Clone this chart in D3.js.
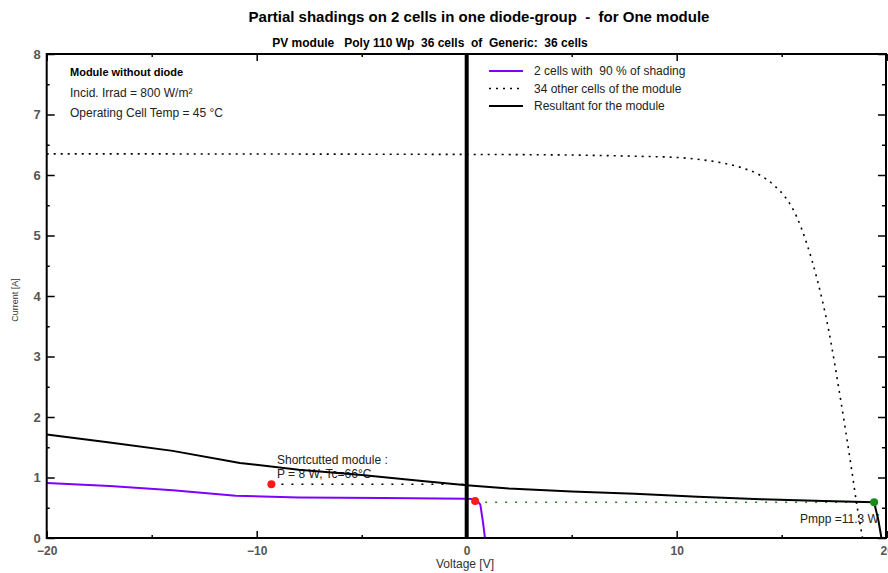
<!DOCTYPE html>
<html>
<head>
<meta charset="utf-8">
<script src="https://cdn.jsdelivr.net/npm/d3@7"></script>
<style>
    body { margin: 0; background: #fff; }
    svg text { font-family: "Liberation Sans", Arial, sans-serif; white-space: pre; }
</style>
</head>
<body>
<svg id="vis_svg"></svg>
<script>
// Data
const voltTicks = [-20, -10, 0, 10, 20];
const currTicks = [0, 1, 2, 3, 4, 5, 6, 7, 8];

// 2 shaded cells (purple)
const shadedV = [-20, -17, -14, -11, -8, -4, 0, 0.45, 0.65, 0.78, 0.87];
const shadedI = [0.91, 0.86, 0.79, 0.70, 0.67, 0.66, 0.65, 0.64, 0.55, 0.25, 0];

// 34 other cells (dotted)
const otherV = [-20, 0, 5, 8, 10, 11, 12, 13, 14, 14.6, 15.2, 15.7, 16.2, 16.7, 17.2, 17.8, 18.3, 18.6, 18.85];
const otherI = [6.35, 6.34, 6.33, 6.31, 6.29, 6.26, 6.21, 6.13, 5.99, 5.84, 5.62, 5.32, 4.86, 4.26, 3.5, 2.3, 1.2, 0.5, 0];

// resultant for the module (black)
const resultV = [-20, -17, -14, -10.8, -8, -5, -2, 0, 2, 5, 8, 11, 14, 17, 19.4, 19.6, 19.75];
const resultI = [1.71, 1.58, 1.44, 1.24, 1.13, 1.04, 0.94, 0.87, 0.82, 0.77, 0.73, 0.68, 0.64, 0.61, 0.59, 0.3, 0];

// operating points
const shortV = [-9.3, 0.4];
const shortI = [0.89, 0.61];
const mppV = 19.4;
const mppI = 0.59;

const legendLabels = ['2 cells with  90 % of shading', '34 other cells of the module', 'Resultant for the module'];
const infoLabels = ['Incid. Irrad = 800 W/m²', 'Operating Cell Temp = 45 °C'];

let config = { svg: {}, plot: {} };
let scales = {};

function visSetup() {
    config.svg.width = 888;
    config.svg.height = 573;

    config.plot.left = 46.7;
    config.plot.right = 886;
    config.plot.top = 54;
    config.plot.bottom = 538;

    svg = d3.select('#vis_svg')
        .attr('width', config.svg.width)
        .attr('height', config.svg.height);

    scales.x = d3.scaleLinear().domain([-20, 20]).range([config.plot.left, 886.7]);
    scales.y = d3.scaleLinear().domain([0, 8]).range([config.plot.bottom, config.plot.top]);
}

function visDraw() {
    let x = scales.x, y = scales.y;
    let p = config.plot;

    // titles
    svg.append('text')
        .attr('x', 479).attr('y', 22)
        .attr('text-anchor', 'middle')
        .style('font-size', '15px').style('font-weight', 'bold')
        .text('Partial shadings on 2 cells in one diode-group  -  for One module');
    svg.append('text')
        .attr('x', 430).attr('y', 47)
        .attr('text-anchor', 'middle')
        .style('font-size', '12px').style('font-weight', 'bold')
        .text('PV module   Poly 110 Wp  36 cells  of  Generic:  36 cells');

    // axes: major and minor ticks, pointing inwards
    let tickStyle = function(g) {
        g.select('.domain').remove();
        g.selectAll('line').attr('stroke', '#000').attr('stroke-width', 1.5);
        g.selectAll('text')
            .style('font-size', '12px').style('font-weight', 'bold')
            .attr('fill', '#555');
    };
    let halves = d3.range(0.5, 8, 1);
    let fives = [-15, -5, 5, 15];

    svg.append('g').attr('transform', translate(p.left, 0))
        .call(d3.axisLeft(y).tickValues(currTicks).tickSizeInner(-8).tickSizeOuter(0).tickPadding(6))
        .call(tickStyle)
        .selectAll('text').style('font-size', '13px');
    svg.append('g').attr('transform', translate(p.left, 0))
        .call(d3.axisLeft(y).tickValues(halves).tickSizeInner(-3).tickSizeOuter(0).tickFormat(''))
        .call(tickStyle);
    svg.append('g').attr('transform', translate(p.right, 0))
        .call(d3.axisRight(y).tickValues(currTicks).tickSizeInner(-8).tickSizeOuter(0).tickFormat(''))
        .call(tickStyle);
    svg.append('g').attr('transform', translate(p.right, 0))
        .call(d3.axisRight(y).tickValues(halves).tickSizeInner(-4).tickSizeOuter(0).tickFormat(''))
        .call(tickStyle);

    svg.append('g').attr('transform', translate(0, p.bottom))
        .call(d3.axisBottom(x).tickValues(voltTicks).tickSizeInner(-7).tickSizeOuter(0).tickPadding(8))
        .call(tickStyle);
    svg.append('g').attr('transform', translate(0, p.bottom))
        .call(d3.axisBottom(x).tickValues(fives).tickSizeInner(-3).tickSizeOuter(0).tickFormat(''))
        .call(tickStyle);
    svg.append('g').attr('transform', translate(0, p.top))
        .call(d3.axisTop(x).tickValues(voltTicks).tickSizeInner(-7).tickSizeOuter(0).tickFormat(''))
        .call(tickStyle);
    svg.append('g').attr('transform', translate(0, p.top))
        .call(d3.axisTop(x).tickValues(fives).tickSizeInner(-3).tickSizeOuter(0).tickFormat(''))
        .call(tickStyle);

    // axis titles
    svg.append('text')
        .attr('x', 465).attr('y', 568)
        .attr('text-anchor', 'middle')
        .style('font-size', '12px').attr('fill', '#333')
        .text('Voltage [V]');
    svg.append('text')
        .attr('transform', translate(18, 300) + ' rotate(-90)')
        .attr('text-anchor', 'middle')
        .style('font-size', '9px').attr('fill', '#333')
        .text('Current [A]');

    // info text
    svg.append('text')
        .attr('x', 70).attr('y', 76)
        .style('font-size', '11px').style('font-weight', 'bold')
        .text('Module without diode');
    svg.selectAll('.info').data(infoLabels).enter().append('text')
        .attr('x', 70).attr('y', (d, i) => 97 + i * 20)
        .style('font-size', '12px').attr('fill', '#222')
        .text(d => d);

    // legend
    let legendStyles = [
        { stroke: '#8000ff', width: 2, dash: null },
        { stroke: '#000', width: 1.5, dash: '2,5' },
        { stroke: '#000', width: 2, dash: null }
    ];
    legendLabels.forEach(function(label, i) {
        let ly = 71 + i * 17.5;
        svg.append('line')
            .attr('x1', 489).attr('x2', 523).attr('y1', ly).attr('y2', ly)
            .attr('stroke', legendStyles[i].stroke)
            .attr('stroke-width', legendStyles[i].width)
            .attr('stroke-dasharray', legendStyles[i].dash);
        svg.append('text')
            .attr('x', 534).attr('y', ly + 4)
            .style('font-size', '12px').attr('fill', '#222')
            .text(label);
    });

    // annotation text (drawn under the curves)
    svg.append('text')
        .attr('x', 277).attr('y', 464)
        .style('font-size', '12px').attr('fill', '#222')
        .text('Shortcutted module :');
    svg.append('text')
        .attr('x', 277).attr('y', 478)
        .style('font-size', '12px').attr('fill', '#222')
        .text('P = 8 W, Tc=66°C');
    svg.append('text')
        .attr('x', 800).attr('y', 523)
        .style('font-size', '12px').attr('fill', '#222')
        .text('Pmpp =11.3 W');

    // helper lines
    svg.append('line')
        .attr('x1', x(shortV[0]) + 10).attr('x2', x(0))
        .attr('y1', y(shortI[0])).attr('y2', y(shortI[0]))
        .attr('stroke', '#000').attr('stroke-width', 1.5).attr('stroke-dasharray', '2,8');
    svg.append('line')
        .attr('x1', x(shortV[1]) + 10).attr('x2', x(mppV))
        .attr('y1', y(mppI)).attr('y2', y(mppI))
        .attr('stroke', '#1a8a1a').attr('stroke-width', 1.5).attr('stroke-dasharray', '2,8');

    // curves
    let line = d3.line()
        .x(d => x(d[0]))
        .y(d => y(d[1]));

    svg.append('path')
        .datum(d3.zip(otherV, otherI))
        .attr('d', line.curve(d3.curveMonotoneX))
        .attr('fill', 'none').attr('stroke', '#000')
        .attr('stroke-width', 1.6).attr('stroke-dasharray', '2,5');

    line.curve(d3.curveLinear);
    svg.append('path')
        .datum(d3.zip(resultV, resultI))
        .attr('d', line)
        .attr('fill', 'none').attr('stroke', '#000').attr('stroke-width', 2);

    svg.append('path')
        .datum(d3.zip(shadedV, shadedI))
        .attr('d', line)
        .attr('fill', 'none').attr('stroke', '#8000ff').attr('stroke-width', 2);

    // frame and zero-voltage line
    svg.append('rect')
        .attr('x', p.left).attr('y', p.top)
        .attr('width', p.right - p.left).attr('height', p.bottom - p.top)
        .attr('fill', 'none').attr('stroke', '#000').attr('stroke-width', 2);
    svg.append('line')
        .attr('x1', x(0)).attr('x2', x(0)).attr('y1', p.top).attr('y2', p.bottom)
        .attr('stroke', '#000').attr('stroke-width', 4);

    // markers
    svg.selectAll('.short').data(d3.zip(shortV, shortI)).enter().append('circle')
        .attr('cx', d => x(d[0])).attr('cy', d => y(d[1])).attr('r', 4)
        .attr('fill', '#ff1a1a');
    svg.append('circle')
        .attr('cx', x(mppV)).attr('cy', y(mppI)).attr('r', 4)
        .attr('fill', '#1a8a1a');
}

// Helper functions
function translate(x, y) {
    return 'translate(' + x + ',' + y + ')';
}

visSetup();
visDraw();
</script>
</body>
</html>
